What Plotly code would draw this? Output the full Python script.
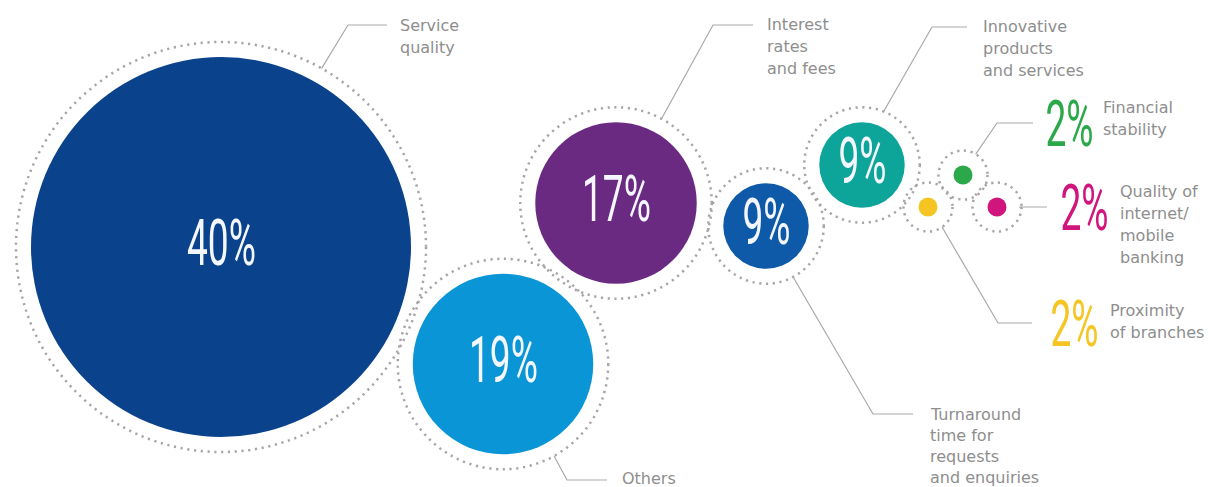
import math
import plotly.graph_objects as go

# Survey shares: main reasons for choosing a bank
categories = [
    "Service quality",
    "Others",
    "Interest rates and fees",
    "Turnaround time for requests and enquiries",
    "Innovative products and services",
    "Financial stability",
    "Quality of internet/mobile banking",
    "Proximity of branches",
]
values = [40, 19, 17, 9, 9, 2, 2, 2]

# Label text, as wrapped on the page
label_lines = [
    ["Service", "quality"],
    ["Others"],
    ["Interest", "rates", "and fees"],
    ["Turnaround", "time for", "requests", "and enquiries"],
    ["Innovative", "products", "and services"],
    ["Financial", "stability"],
    ["Quality of", "internet/", "mobile", "banking"],
    ["Proximity", "of branches"],
]

# Layout: bubble centres (pixel space), callout geometry
centers_x = [221, 503, 616, 766, 862, 963, 997, 928]
centers_y = [247, 364, 203, 226, 165, 175, 207, 207]
callout_angle = [-60.6, 61, -61.6, 62, -68, -58.7, 0, 55]
elbow_x = [348, 567, 713, 873, 932, 997, 1019, 998]
elbow_y = [25, 480, 25, 414, 27, 123, 207, 323]
line_end_x = [387, 607, 753, 913, 967, 1033, 1047, 1032]
label_x = [398, 620, 765, 928, 981, 1101, 1118, 1108]
label_first_y = [25, 478, 24, 414, 26, 107, 191, 310]
label_step = [22.3, 22.3, 22.3, 21.0, 22.3, 22.3, 22.3, 22.3]
small_pct_x = [None, None, None, None, None, 1069, 1084, 1074]
small_pct_y = [None, None, None, None, None, 124, 208, 324]

colors = ["#0A428C", "#0A96D6", "#6A2A82", "#0F5AA8", "#0DA49A",
          "#2BA84A", "#D0157D", "#F5C623"]

PX_PER_PCT = 4.75      # bubble radius per percentage point
RING_GAP = 15          # distance from bubble edge to dotted ring
W, H = 1212, 487
LABEL_GREY = "#8E8E8E"
LINE_GREY = "#A9A9A9"
PCT_FONT = dict(family="Roboto, sans-serif", size=64, weight=400)

fig = go.Figure()

# Filled bubbles
fig.add_trace(go.Scatter(
    x=centers_x, y=centers_y, mode="markers",
    marker=dict(size=[2 * PX_PER_PCT * v for v in values], sizemode="diameter",
                color=colors, line=dict(width=0), opacity=1),
    hoverinfo="text", text=[f"{c}: {v}%" for c, v in zip(categories, values)],
    showlegend=False,
))

shapes = []
annotations = []
for i, v in enumerate(values):
    cx, cy = centers_x[i], centers_y[i]
    r = PX_PER_PCT * v
    ring = r + RING_GAP
    # dotted ring around each bubble
    shapes.append(dict(type="circle", xref="x", yref="y",
                       x0=cx - ring, x1=cx + ring, y0=cy - ring, y1=cy + ring,
                       line=dict(color="#A9A4A9", width=2.5, dash="2.2px,4.6px"),
                       layer="below"))
    # callout line from the ring to the label
    a = math.radians(callout_angle[i])
    sx, sy = cx + ring * math.cos(a), cy + ring * math.sin(a)
    fig.add_trace(go.Scatter(
        x=[sx, elbow_x[i], line_end_x[i]], y=[sy, elbow_y[i], elbow_y[i]],
        mode="lines", line=dict(color=LINE_GREY, width=1.2),
        hoverinfo="skip", showlegend=False,
    ))

    # label, one annotation per line for fixed spacing
    for j, line in enumerate(label_lines[i]):
        annotations.append(dict(
            x=label_x[i], y=label_first_y[i] + j * label_step[i],
            xref="x", yref="y", xanchor="left", yanchor="middle",
            text=line, showarrow=False,
            font=dict(family="DejaVu Sans, sans-serif", size=16, color=LABEL_GREY),
        ))

    # percentage figure
    if small_pct_x[i] is None:
        annotations.append(dict(
            x=cx, y=cy - 4, xref="x", yref="y", text=f"{v}%", showarrow=False,
            font=dict(**PCT_FONT, color="#F4F7FF"),
        ))
    else:
        annotations.append(dict(
            x=small_pct_x[i], y=small_pct_y[i], xref="x", yref="y",
            text=f"{v}%", showarrow=False,
            font=dict(**PCT_FONT, color=colors[i]),
        ))

fig.update_layout(
    width=W, height=H, margin=dict(l=0, r=0, t=0, b=0),
    paper_bgcolor="white", plot_bgcolor="white",
    xaxis=dict(range=[0, W], visible=False, fixedrange=True),
    yaxis=dict(range=[H, 0], visible=False, fixedrange=True),
    shapes=shapes, annotations=annotations,
)

# Narrow the percentage figures into a condensed look
condense_js = """
var gd = document.getElementById('{plot_id}');
function condense() {
  gd.querySelectorAll('text.annotation-text').forEach(function (t) {
    if (/%$/.test(t.textContent)) {
      t.style.transformBox = 'fill-box';
      t.style.transformOrigin = 'center';
      t.style.transform = 'scaleX(0.58)';
    }
  });
}
condense();
gd.on('plotly_afterplot', condense);
"""

fig.write_html("out.html", post_script=condense_js)
